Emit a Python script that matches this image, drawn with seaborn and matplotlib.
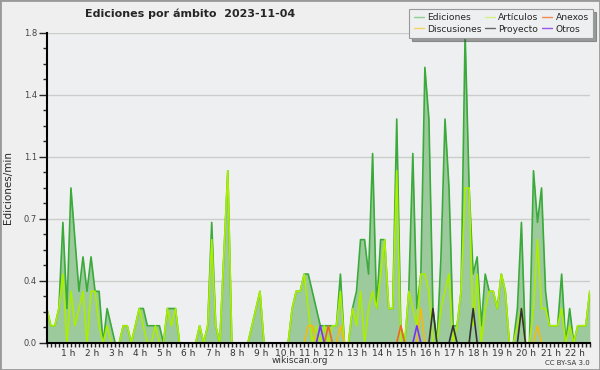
import numpy as np
import pandas as pd
import seaborn as sns
import matplotlib.pyplot as plt
import matplotlib.patches as mpatches
from matplotlib.lines import Line2D
from matplotlib.ticker import MultipleLocator
from matplotlib.transforms import ScaledTranslation

# edits per minute, one value per 10-minute bin, 00:00 -> 22:30
ediciones = [0.2, 0.1, 0.1, 0.2, 0.7, 0.2, 0.9, 0.6, 0.3, 0.5, 0.3, 0.5, 0.3, 0.3, 0.0, 0.2, 0.1, 0.0,
             0.0, 0.1, 0.1, 0.0, 0.1, 0.2, 0.2, 0.1, 0.1, 0.1, 0.1, 0.0, 0.2, 0.2, 0.2, 0.0, 0.0, 0.0,
             0.0, 0.0, 0.1, 0.0, 0.1, 0.7, 0.1, 0.0, 0.5, 1.0, 0.0, 0.0, 0.0, 0.0, 0.0, 0.1, 0.2, 0.3,
             0.0, 0.0, 0.0, 0.0, 0.0, 0.0, 0.0, 0.2, 0.3, 0.3, 0.4, 0.4, 0.3, 0.2, 0.1, 0.1, 0.1, 0.1,
             0.1, 0.4, 0.0, 0.0, 0.2, 0.3, 0.6, 0.6, 0.4, 1.1, 0.2, 0.6, 0.6, 0.2, 0.2, 1.3, 0.1, 0.0,
             0.3, 1.1, 0.2, 0.4, 1.6, 1.3, 0.2, 0.0, 0.5, 1.3, 0.9, 0.1, 0.1, 0.3, 1.8, 0.9, 0.4, 0.5,
             0.1, 0.4, 0.3, 0.3, 0.2, 0.4, 0.3, 0.0, 0.0, 0.2, 0.7, 0.0, 0.0, 1.0, 0.7, 0.9, 0.3, 0.1,
             0.1, 0.1, 0.4, 0.0, 0.2, 0.0, 0.1, 0.1, 0.1, 0.3]
articulos = [0.2, 0.1, 0.1, 0.2, 0.4, 0.0, 0.3, 0.1, 0.2, 0.3, 0.0, 0.3, 0.3, 0.1, 0.0, 0.1, 0.0, 0.0,
             0.0, 0.1, 0.1, 0.0, 0.1, 0.2, 0.1, 0.0, 0.0, 0.1, 0.0, 0.0, 0.2, 0.1, 0.2, 0.0, 0.0, 0.0,
             0.0, 0.0, 0.1, 0.0, 0.1, 0.6, 0.1, 0.0, 0.5, 1.0, 0.0, 0.0, 0.0, 0.0, 0.0, 0.1, 0.2, 0.3,
             0.0, 0.0, 0.0, 0.0, 0.0, 0.0, 0.0, 0.2, 0.3, 0.3, 0.4, 0.2, 0.0, 0.1, 0.0, 0.1, 0.0, 0.1,
             0.1, 0.3, 0.0, 0.0, 0.2, 0.1, 0.3, 0.0, 0.2, 0.3, 0.2, 0.4, 0.6, 0.2, 0.2, 1.0, 0.0, 0.0,
             0.3, 0.2, 0.1, 0.4, 0.4, 0.3, 0.0, 0.0, 0.2, 0.3, 0.4, 0.0, 0.1, 0.3, 0.9, 0.9, 0.1, 0.4,
             0.0, 0.2, 0.3, 0.3, 0.2, 0.4, 0.3, 0.0, 0.0, 0.1, 0.2, 0.0, 0.0, 0.2, 0.6, 0.2, 0.2, 0.1,
             0.1, 0.1, 0.2, 0.0, 0.1, 0.0, 0.1, 0.1, 0.1, 0.3]
# the small namespaces are zero except in a few bins: (bin index, value)
discusiones_bins, discusiones_vals = [65, 66, 73, 93, 122], [0.1, 0.1, 0.1, 0.2, 0.1]
anexos_bins, anexos_vals = [70, 88], [0.1, 0.1]
proyecto_bins, proyecto_vals = [96, 101, 106, 118], [0.2, 0.1, 0.2, 0.2]
otros_bins, otros_vals = [68, 92], [0.1, 0.1]

y_ticks = [0.0, 0.36, 0.72, 1.08, 1.44, 1.8]
y_tick_labels = ["0.0", "0.4", "0.7", "1.1", "1.4", "1.8"]
hour_ticks = list(range(1, 23))
hour_labels = [f"{h} h" for h in hour_ticks]

colors = {"Ediciones": "#3aaa3a", "Artículos": "#aaee00", "Anexos": "#ee6a1a",
          "Discusiones": "#f2bb10", "Proyecto": "#333333", "Otros": "#7a33ee"}
legend_colors = {"Ediciones": "#8fd08f", "Artículos": "#d2f080", "Anexos": "#f08a50",
                 "Discusiones": "#f4d460", "Proyecto": "#666666", "Otros": "#9a55ee"}

n = len(ediciones)
def sparse(bins, vals):
    s = np.zeros(n)
    s[bins] = vals
    return s

hora = np.arange(n) / 6
df = pd.DataFrame({"hora": hora, "Ediciones": ediciones, "Artículos": articulos,
                   "Discusiones": sparse(discusiones_bins, discusiones_vals),
                   "Anexos": sparse(anexos_bins, anexos_vals),
                   "Proyecto": sparse(proyecto_bins, proyecto_vals),
                   "Otros": sparse(otros_bins, otros_vals)})
long = df.melt(id_vars="hora", var_name="ambito", value_name="ed")

sns.set_style("ticks", {"axes.facecolor": "#eeeff0", "figure.facecolor": "#efefef"})
plt.rcParams['font.family'] = ['DejaVu Sans']

fig = plt.figure(figsize=(6, 3.7), dpi=100)
ax = fig.add_axes([0.078, 0.073, 0.905, 0.838])

ax.fill_between(df["hora"], df["Ediciones"], color="#9dca9d", lw=0, zorder=1)
sns.lineplot(data=long, x="hora", y="ed", hue="ambito",
             hue_order=["Ediciones", "Artículos", "Discusiones", "Anexos", "Otros", "Proyecto"],
             palette=colors, linewidth=1.2, legend=False, ax=ax, zorder=2)

ax.set_xlim(0, hora[-1])
ax.set_ylim(0, 1.8)
ax.set_yticks(y_ticks, labels=y_tick_labels)
ax.yaxis.set_minor_locator(MultipleLocator(0.09))
ax.set_xticks(hour_ticks, labels=hour_labels)
ax.xaxis.set_minor_locator(MultipleLocator(1 / 6))
ax.grid(axis="y", color="#cccccc", lw=1)
ax.set_axisbelow(True)
sns.despine(ax=ax)
for s in ("left", "bottom"):
    ax.spines[s].set_linewidth(1.5)
    ax.spines[s].set_color("black")
    ax.spines[s].set_zorder(5)

ax.tick_params(axis="x", which="both", length=3, width=1, pad=1, labelsize=6.5, labelcolor="#333333")
ax.tick_params(axis="y", which="major", length=6, width=1, pad=1, labelsize=6, labelcolor="#444444")
ax.tick_params(axis="y", which="minor", length=3, width=1)
for lab in ax.get_xticklabels():
    lab.set_transform(lab.get_transform() + ScaledTranslation(-3 / 100, 0, fig.dpi_scale_trans))

ax.set_xlabel("")
ax.set_ylabel("Ediciones/min", fontsize=7.5, labelpad=8)

fig.text(0.142, 0.962, "Ediciones por ámbito  2023-11-04", fontsize=8, fontweight="bold", va="center")
fig.text(0.5, 0.025, "wikiscan.org", fontsize=6.5, color="#333333", ha="center", va="center")
fig.text(0.983, 0.02, "CC BY-SA 3.0", fontsize=5, color="#333333", ha="right", va="center")

order = ["Ediciones", "Discusiones", "Artículos", "Proyecto", "Anexos", "Otros"]
handles = [Line2D([], [], color=legend_colors[k], lw=1) for k in order]
leg = fig.legend(handles, order, ncol=3, loc="upper right", bbox_to_anchor=(0.988, 0.975),
                 fontsize=6.6, frameon=True, fancybox=False, shadow=True, framealpha=1,
                 edgecolor="#999999", handlelength=1.1, handletextpad=0.35, columnspacing=0.4,
                 labelspacing=0.25, borderpad=0.45, borderaxespad=0)
leg.get_frame().set_linewidth(0.8)

fig.patches.append(mpatches.Rectangle((0, 0), 1, 1, transform=fig.transFigure, fill=False,
                                      edgecolor="#999999", lw=2))

fig.savefig("out.png", dpi=100)
